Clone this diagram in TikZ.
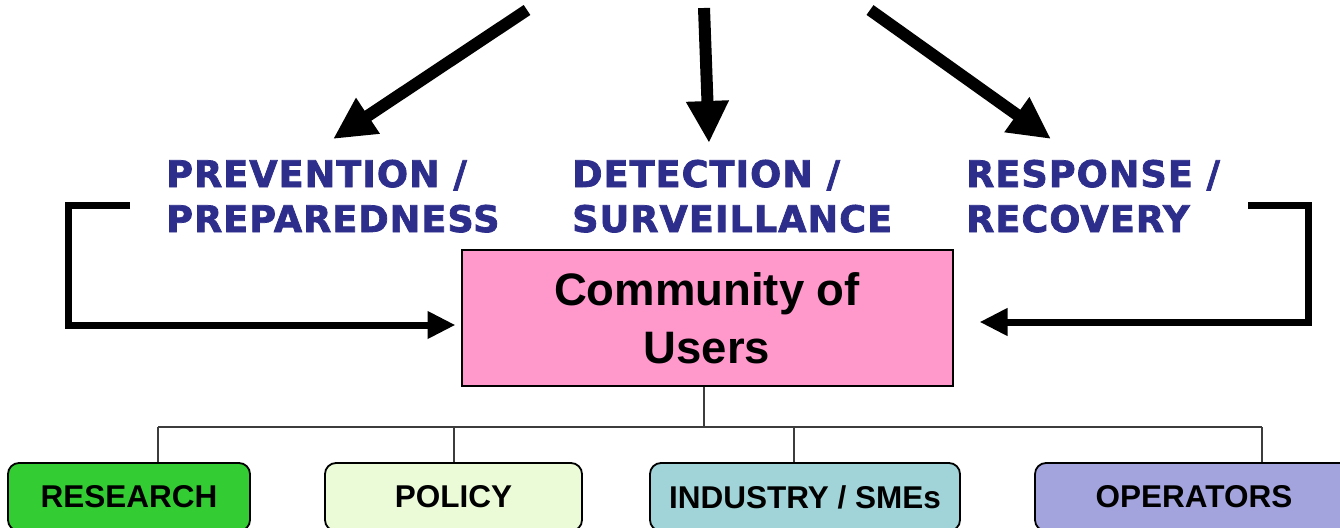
\documentclass[tikz,border=0pt]{standalone}
\usepackage{fontspec}
\usetikzlibrary{arrows.meta,calc}
\newfontfamily\headfont[BoldFeatures={FakeBold=2,LetterSpace=2.8}]{DejaVu Sans}
\newfontfamily\arialfont{Liberation Sans}
\definecolor{headblue}{RGB}{45,46,140}
\definecolor{pinkfill}{RGB}{255,153,204}
\definecolor{resfill}{RGB}{51,204,51}
\definecolor{polfill}{RGB}{235,250,215}
\definecolor{indfill}{RGB}{160,212,216}
\definecolor{opfill}{RGB}{163,163,222}
\definecolor{treegray}{RGB}{60,60,60}
\tikzset{
  bigarrow/.style={line width=12pt, -{Triangle[length=42pt,width=40pt]}},
  bracketarrow/.style={line width=7pt, line join=miter, -{Triangle[length=28pt,width=26pt]}},
  headtext/.style={font=\headfont\bfseries\fontsize{36.6}{45}\selectfont, text=headblue, align=left, anchor=base west, inner sep=0pt},
  userbox/.style={draw=black, line width=2pt, fill=pinkfill, minimum width=491pt, minimum height=136pt, align=center, font=\arialfont\bfseries\fontsize{45.5}{58}\selectfont},
  groupbox/.style={draw=black, line width=1.8pt, rounded corners=11pt, minimum height=68pt, font=\arialfont\bfseries\fontsize{31.5}{36}\selectfont},
  treeline/.style={draw=treegray, line width=1.8pt}
}
\begin{document}
\begin{tikzpicture}[x=1pt,y=-1pt]
\useasboundingbox (0,0) rectangle (1340,527);
\clip (0,0) rectangle (1340,527);
% heading texts
\node[headtext] (prev) at (166,232) {PREVENTION /\\PREPAREDNESS};
\node[headtext] (det) at (572,232) {DETECTION /\\SURVEILLANCE};
\node[headtext] (resp) at (966,232) {RESPONSE /\\RECOVERY};
% central box
\node[userbox] (users) at (707,318) {Community of\\Users};
% group boxes
\node[groupbox, fill=resfill, minimum width=242pt] (research) at (129,497) {RESEARCH};
\node[groupbox, fill=polfill, minimum width=257pt] (policy) at (453.5,497) {POLICY};
\node[groupbox, fill=indfill, minimum width=310pt] (industry) at (805,497) {INDUSTRY / SMEs};
\node[groupbox, fill=opfill, minimum width=318pt] (operators) at (1194,497) {OPERATORS};
% top arrows
\coordinate (t1) at (527,10);
\coordinate (h1) at (333,139);
\coordinate (t2) at (704,8);
\coordinate (h2) at (709,143);
\coordinate (t3) at (870,10);
\coordinate (h3) at (1051,139);
\draw[bigarrow] (t1) -- (h1);
\draw[bigarrow] (t2) -- (h2);
\draw[bigarrow] (t3) -- (h3);
% bracket arrows
\coordinate (ls) at (130,205);
\coordinate (lc) at (68,205);
\draw[bracketarrow] (ls) -- (lc) |- ([shift={(-5,7)}]users.west);
\coordinate (rs) at (1248,205);
\coordinate (rc) at (1308,205);
\draw[bracketarrow] (rs) -- (rc) |- ([shift={(26,4)}]users.east);
% tree
\coordinate (bus) at (704,427);
\draw[treeline] (users.south -| bus) -- (bus);
\draw[treeline] (158,427) -- (1262,427);
\draw[treeline] (158,427) -- (research.north -| 158,0);
\draw[treeline] (454,427) -- (policy.north -| 454,0);
\draw[treeline] (794,427) -- (industry.north -| 794,0);
\draw[treeline] (1262,427) -- (operators.north -| 1262,0);
\end{tikzpicture}
\end{document}
